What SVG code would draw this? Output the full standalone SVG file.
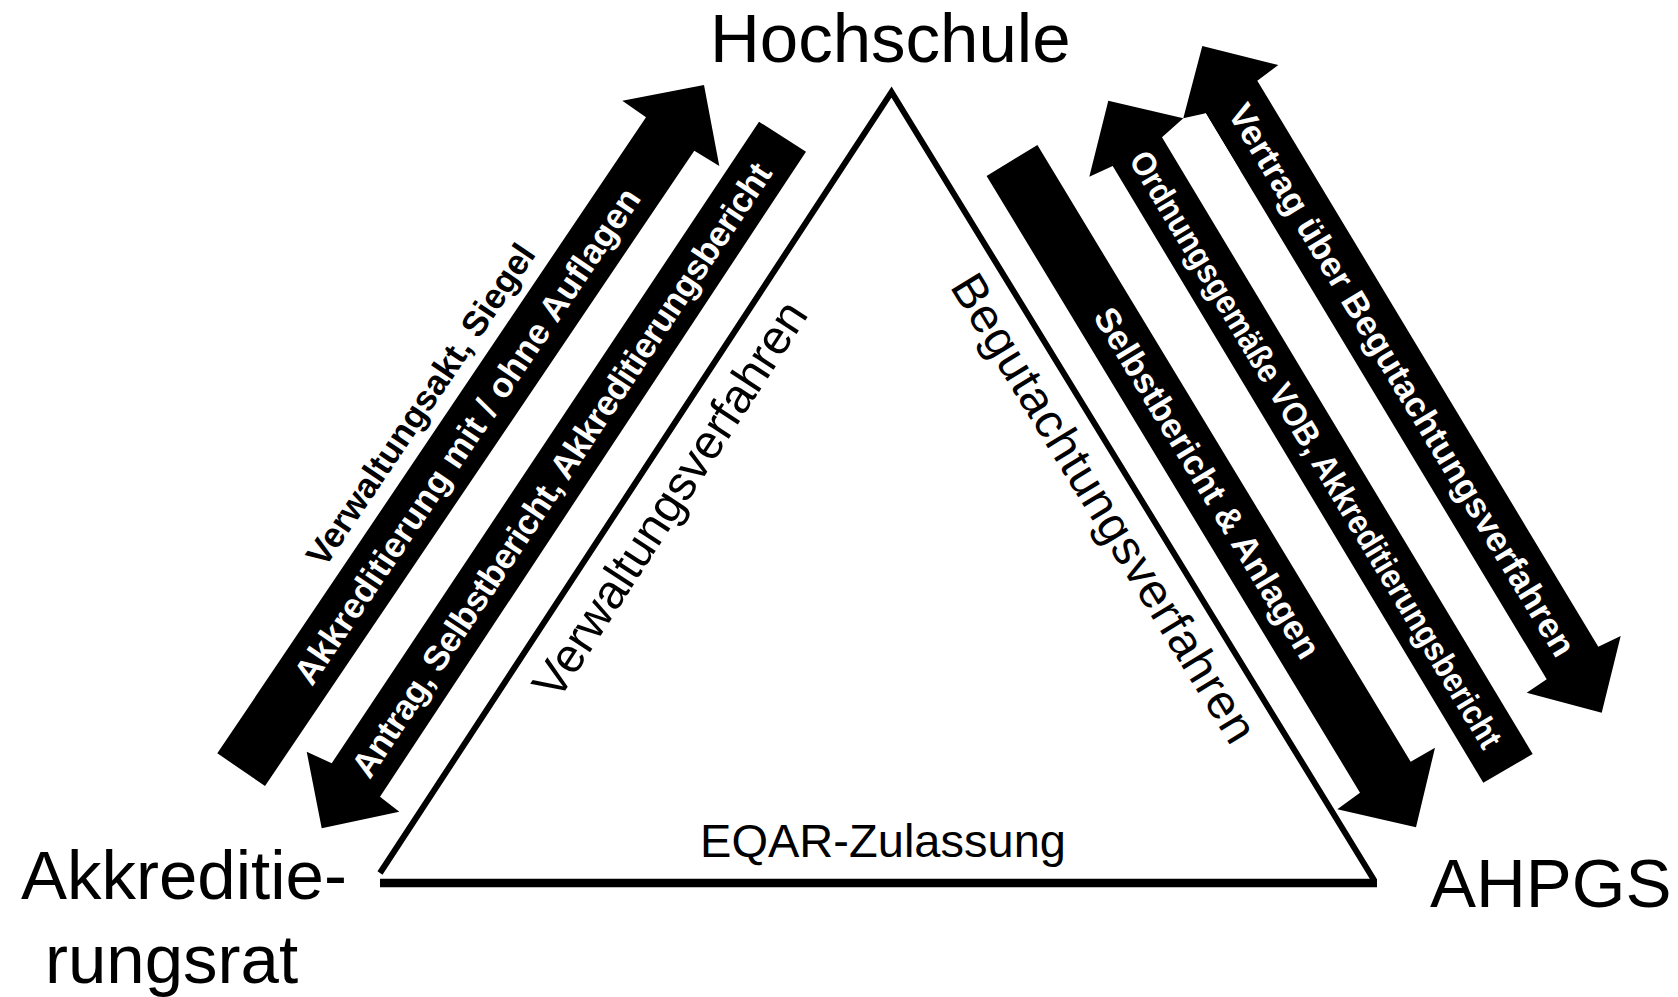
<svg xmlns="http://www.w3.org/2000/svg" width="1678" height="997" viewBox="0 0 1678 997">
<style>
text { font-family: "Liberation Sans", Arial, sans-serif; fill: #000; }
.node { font-size: 69px; }
.side { font-size: 48px; }
.eqar { font-size: 47px; }
.lbl { font-size: 35px; font-weight: bold; fill: #fff; }
.lblb { font-size: 35px; font-weight: bold; fill: #000; }
.arrow { fill: #000; stroke: none; }
.tri { fill: none; stroke: #000; stroke-width: 6; stroke-linejoin: miter; stroke-miterlimit: 10; }
.base { stroke: #000; stroke-width: 8.5; }
</style>
<rect width="1678" height="997" fill="#fff"/>

<g id="node-hochschule">
  <text class="node" x="710" y="62">Hochschule</text>
</g>
<g id="node-akkreditierungsrat">
  <text class="node" x="21" y="899">Akkreditie-</text>
  <text class="node" x="45" y="983">rungsrat</text>
</g>
<g id="node-ahpgs">
  <text class="node" x="1430" y="907">AHPGS</text>
</g>

<g id="connectors">
  <!-- triangle -->
  <polyline class="tri" points="380,873 891.5,92 1374,880"/>
  <line class="base" x1="380" y1="883" x2="1377" y2="883"/>
  <text class="eqar" x="700" y="857" textLength="366">EQAR-Zulassung</text>
  <text class="side" transform="translate(671,500) rotate(-57)" x="0" y="15" text-anchor="middle" textLength="462">Verwaltungsverfahren</text>
  <text class="side" transform="translate(1103,509) rotate(58.5)" x="0" y="15" text-anchor="middle" textLength="540">Begutachtungsverfahren</text>

  <!-- arrow 1: Akkreditierungsrat -> Hochschule -->
  <polygon class="arrow" points="217.3,753.3 646,117.3 622.3,100.7 704,85 719.3,166 694.3,150.7 265,786"/>
  <g transform="translate(467,436) rotate(-56)">
    <text class="lblb" x="0" y="-44" text-anchor="middle">Verwaltungsakt, Siegel</text>
    <text class="lbl" x="0" y="12" text-anchor="middle" textLength="590">Akkreditierung mit / ohne Auflagen</text>
  </g>

  <!-- arrow 2: Hochschule -> Akkreditierungsrat -->
  <polygon class="arrow" points="759,121.7 806,151.7 380,796.7 399.3,811.7 321.7,828.3 306.7,751.7 331.7,763.3"/>
  <text class="lbl" transform="translate(561.4,470.1) rotate(-56.4)" x="0" y="12" text-anchor="middle" textLength="729">Antrag, Selbstbericht, Akkreditierungsbericht</text>

  <!-- arrow 3: Hochschule -> AHPGS -->
  <polygon class="arrow" points="1037.4,145.1 1410.7,761.7 1435,747.7 1416,827.3 1337.3,809.3 1360,792.7 986.6,175.9"/>
  <text class="lbl" transform="translate(1207.3,482.8) rotate(58.8)" x="0" y="12" text-anchor="middle">Selbstbericht &amp; Anlagen</text>

  <!-- arrow 5: double arrow Hochschule <-> AHPGS -->
  <polygon class="arrow" points="1202.3,46 1278.3,65 1257.3,80.7 1598.3,646.7 1620.7,636 1601.7,712.7 1526.7,692.7 1546.7,679.3 1205.7,113.3 1183.3,118.3"/>
  <polygon fill="#fff" points="1162,137.3 1205.7,113.3 1239.7,169.9 1196,193.9"/>
  <text class="lbl" transform="translate(1402,380) rotate(58.9)" x="0" y="12" text-anchor="middle" textLength="638">Vertrag über Begutachtungsverfahren</text>

  <!-- arrow 4: AHPGS -> Hochschule -->
  <polygon class="arrow" points="1108.3,100.7 1183.3,118.3 1162,137.3 1532.7,754 1483.3,782.7 1112.7,166 1089.3,176.7"/>
  <text class="lbl" style="font-size:34px" transform="translate(1316.2,449.3) rotate(59)" x="0" y="12" text-anchor="middle" textLength="690" lengthAdjust="spacingAndGlyphs">Ordnungsgemäße VOB, Akkreditierungsbericht</text>
</g>
</svg>
